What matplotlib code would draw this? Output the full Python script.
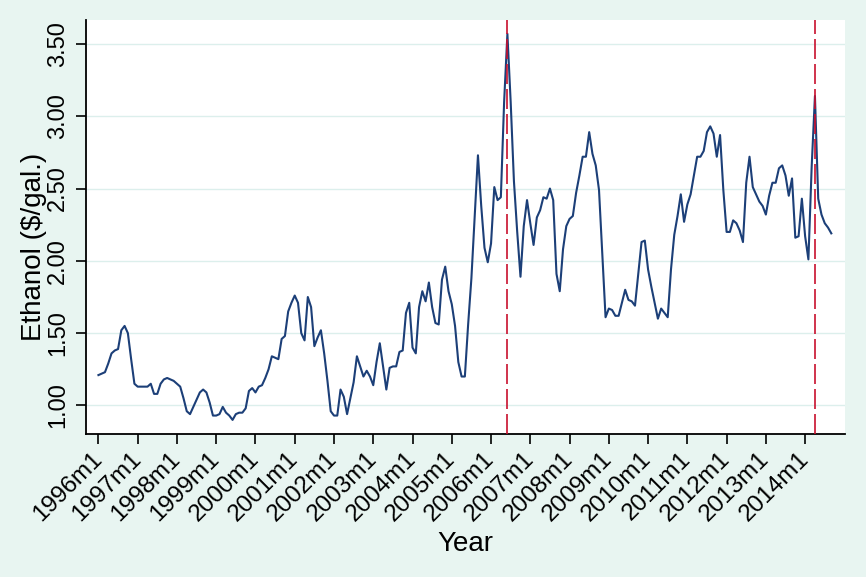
import matplotlib
matplotlib.use("Agg")
import matplotlib.pyplot as plt
import numpy as np

# Monthly ethanol price, 1996m1 .. 2014m9 ($/gal.)
start_year = 1996
prices = [
    # 1996
    1.21, 1.22, 1.23, 1.29, 1.36, 1.38, 1.39, 1.52, 1.55, 1.50, 1.32, 1.15,
    # 1997
    1.13, 1.13, 1.13, 1.13, 1.15, 1.08, 1.08, 1.15, 1.18, 1.19, 1.18, 1.17,
    # 1998
    1.15, 1.13, 1.05, 0.96, 0.94, 0.99, 1.04, 1.09, 1.11, 1.09, 1.02, 0.93,
    # 1999
    0.93, 0.94, 0.99, 0.95, 0.93, 0.90, 0.94, 0.95, 0.95, 0.98, 1.10, 1.12,
    # 2000
    1.09, 1.13, 1.14, 1.19, 1.25, 1.34, 1.33, 1.32, 1.46, 1.48, 1.65, 1.71,
    # 2001
    1.76, 1.71, 1.50, 1.45, 1.75, 1.68, 1.41, 1.47, 1.52, 1.36, 1.17, 0.96,
    # 2002
    0.93, 0.93, 1.11, 1.06, 0.94, 1.05, 1.16, 1.34, 1.27, 1.20, 1.24, 1.20,
    # 2003
    1.14, 1.30, 1.43, 1.27, 1.11, 1.26, 1.27, 1.27, 1.37, 1.38, 1.64, 1.71,
    # 2004
    1.40, 1.36, 1.68, 1.79, 1.72, 1.85, 1.68, 1.57, 1.56, 1.87, 1.96, 1.79,
    # 2005
    1.70, 1.55, 1.30, 1.20, 1.20, 1.56, 1.88, 2.30, 2.73, 2.38, 2.09, 1.99,
    # 2006
    2.12, 2.51, 2.42, 2.44, 3.10, 3.57, 3.10, 2.55, 2.20, 1.89, 2.24, 2.42,
    # 2007
    2.26, 2.11, 2.30, 2.35, 2.44, 2.43, 2.50, 2.42, 1.91, 1.79, 2.08, 2.24,
    # 2008
    2.29, 2.31, 2.47, 2.59, 2.72, 2.72, 2.89, 2.74, 2.66, 2.49, 2.05, 1.61,
    # 2009
    1.67, 1.66, 1.62, 1.62, 1.71, 1.80, 1.73, 1.72, 1.69, 1.91, 2.13, 2.14,
    # 2010
    1.94, 1.82, 1.71, 1.60, 1.67, 1.64, 1.61, 1.94, 2.18, 2.31, 2.46, 2.27,
    # 2011
    2.39, 2.46, 2.59, 2.72, 2.72, 2.76, 2.89, 2.93, 2.88, 2.72, 2.87, 2.49,
    # 2012
    2.20, 2.20, 2.28, 2.26, 2.21, 2.13, 2.54, 2.72, 2.51, 2.46, 2.41, 2.38,
    # 2013
    2.32, 2.45, 2.54, 2.54, 2.64, 2.66, 2.59, 2.45, 2.57, 2.16, 2.17, 2.43,
    # 2014
    2.17, 2.01, 2.65, 3.14, 2.43, 2.32, 2.26, 2.23, 2.19,
]
months = np.arange(len(prices))

# Event lines: 2006m6 and 2014m4 (months since 1996m1)
event_months = [125, 219]

tick_months = list(range(0, 217, 12))
tick_labels = [f"{start_year + i}m1" for i in range(len(tick_months))]
y_ticks = [1.00, 1.50, 2.00, 2.50, 3.00, 3.50]

bg = "#e8f5f1"
grid_c = "#dcefec"
navy = "#1c3f78"
red = "#c8102e"

plt.rcParams["font.family"] = ["Liberation Sans", "DejaVu Sans"]

fig = plt.figure(figsize=(8.66, 5.77), dpi=100, facecolor=bg)
ax = fig.add_axes([0.0993, 0.2487, 0.8765, 0.7175])
ax.set_facecolor("white")

for yt in y_ticks:
    ax.axhline(yt, color=grid_c, lw=1.0, zorder=1)

ax.plot(months, prices, color=navy, lw=1.5, zorder=3)
for em in event_months:
    ax.axvline(em, color=red, lw=1.2, dashes=(12, 3), zorder=4)

ax.set_xlim(-3.8, 228.2)
ax.set_ylim(0.806, 3.669)

ax.set_xticks(tick_months)
ax.set_xticklabels(tick_labels, rotation=45, ha="right", va="center",
                   rotation_mode="anchor", fontsize=17.5)
ax.set_yticks(y_ticks)
ax.set_yticklabels([f"{v:.2f}" for v in y_ticks], rotation=90,
                   va="center", fontsize=17)

ax.tick_params(axis="both", direction="out", length=7, width=1.2,
               color="black")
ax.tick_params(axis="y", pad=5)
ax.tick_params(axis="x", pad=9)

for s in ["top", "right"]:
    ax.spines[s].set_visible(False)
for s in ["left", "bottom"]:
    ax.spines[s].set_linewidth(1.3)
    ax.spines[s].set_color("black")

ax.set_xlabel("Year", fontsize=20, labelpad=4)
fig.text(34 / 866, 1 - 247 / 577, "Ethanol (\\$/gal.)", rotation=90,
         fontsize=20, ha="center", va="center")

fig.savefig("out.png", dpi=100, facecolor=bg)
